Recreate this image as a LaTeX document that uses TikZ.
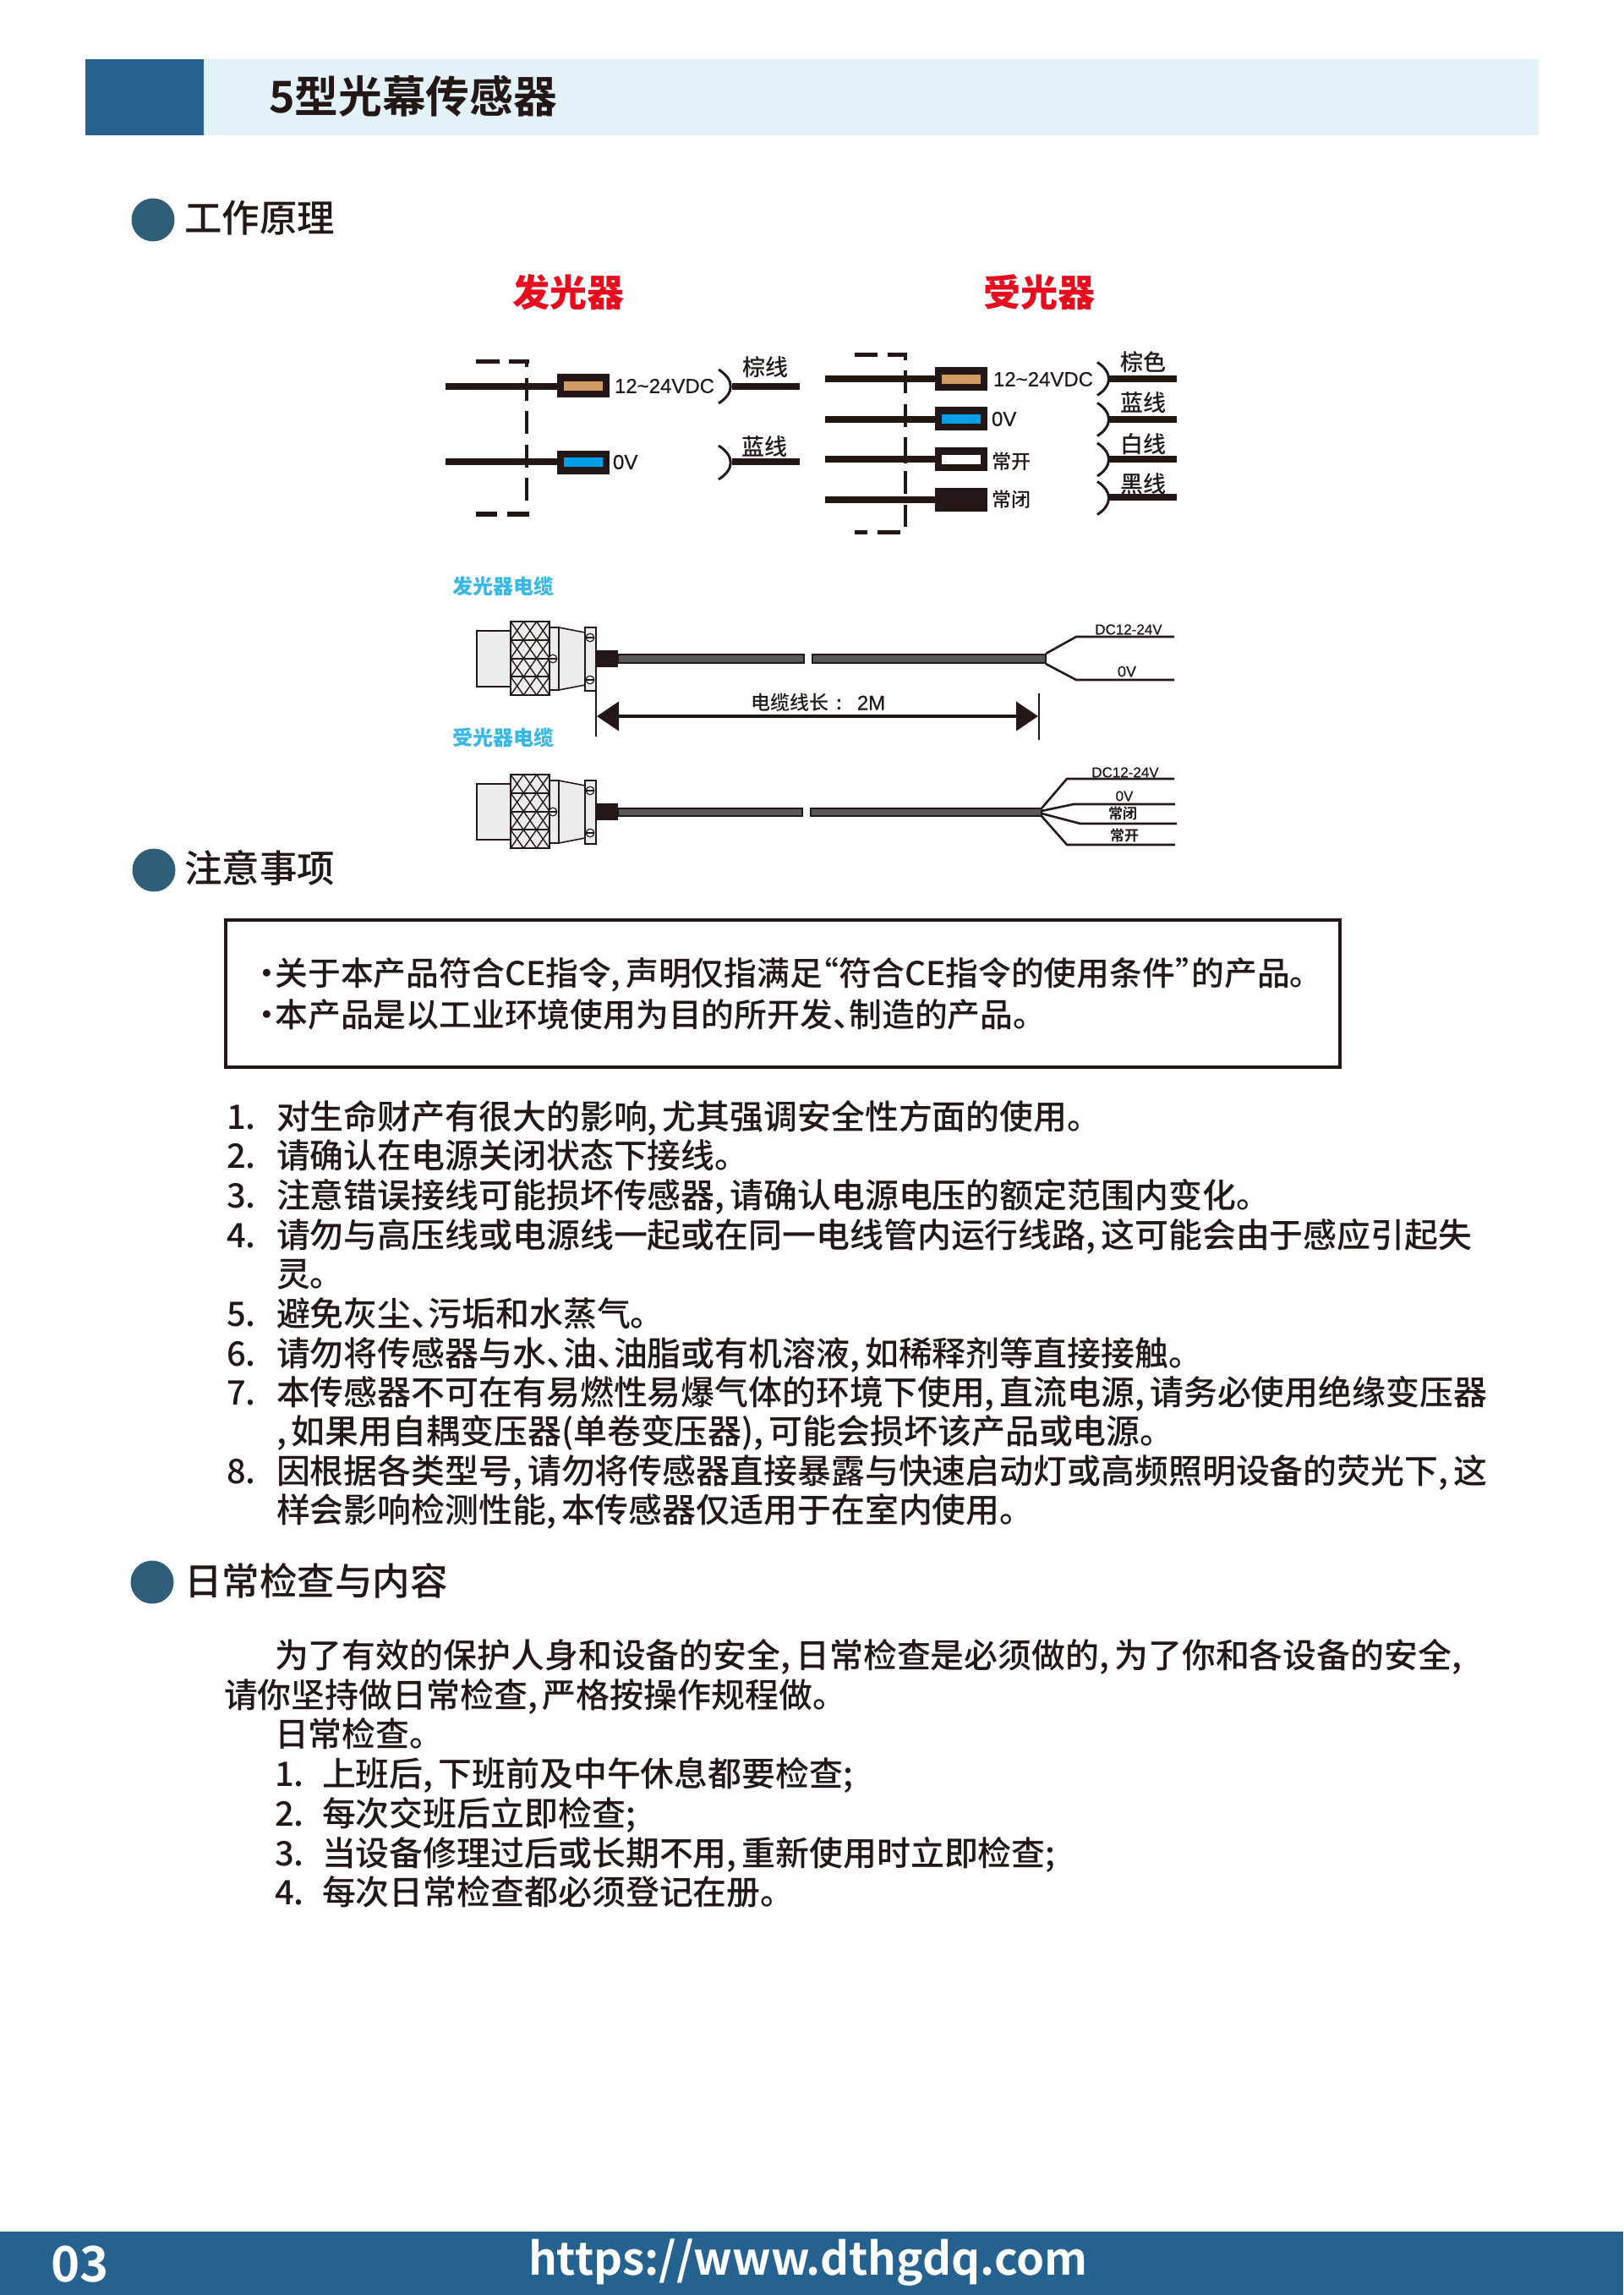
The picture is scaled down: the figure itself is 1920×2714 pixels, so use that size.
\documentclass[tikz,border=0pt]{standalone}
\usepackage{fontspec}
\usetikzlibrary{arrows.meta}
\setmainfont{Noto Sans CJK SC}[UprightFont=* Medium,BoldFont=* Bold,RawFeature={+halt}]
\newfontfamily\heavyfont{Noto Sans CJK SC Black}
\newfontfamily\latinfont{Liberation Sans}[FakeBold=0.5]
\newcommand{\ck}{,\hspace{.15em}}
\definecolor{inkdark}{HTML}{231815}
\definecolor{barblue}{HTML}{25628F}
\definecolor{barlight}{HTML}{E3F1F9}
\definecolor{dotblue}{HTML}{305E78}
\definecolor{signred}{HTML}{E60D1E}
\definecolor{signcyan}{HTML}{39B8E6}
\definecolor{coretan}{HTML}{D09A60}
\definecolor{coreblue}{HTML}{00A0E9}
\definecolor{cablegrey}{HTML}{595757}
\definecolor{bodygrey}{HTML}{ECECEC}

\begin{document}
\begin{tikzpicture}[x=1pt,y=-1pt]
	\tikzstyle{every node} = [inner sep=0,outer sep=0,text=inkdark];
	\tikzstyle{headline} = [anchor=west,font=\fontsize{44.5}{50}\selectfont,text height=38,text depth=6];
	\tikzstyle{bodyline} = [anchor=west,font=\fontsize{39.9}{46}\selectfont,text height=34,text depth=5];
	\tikzstyle{noteline} = [anchor=west,font=\fontsize{38.8}{46}\selectfont,text height=33,text depth=5];
	\tikzstyle{dot} = [circle,fill=dotblue,minimum size=51];
	\tikzstyle{signlabel} = [font=\heavyfont\fontsize{44}{50}\selectfont,text=signred,text height=38,text depth=6];
	\tikzstyle{cablelabel} = [anchor=west,font=\heavyfont\fontsize{24}{28}\selectfont,text=signcyan,text height=21,text depth=3];
	\tikzstyle{wirelabel} = [font=\fontsize{27}{30}\selectfont,text height=23,text depth=3];
	\tikzstyle{pinlabel} = [anchor=west,font=\fontsize{23}{28}\selectfont,text height=20,text depth=3];
	\tikzstyle{voltlabel} = [anchor=west,font=\latinfont\fontsize{24}{28}\selectfont,text height=17.5,text depth=0];
	\tikzstyle{tinylabel} = [font=\latinfont\fontsize{17}{20}\selectfont,text height=12.5,text depth=0];
	\tikzstyle{tinycjk} = [font=\bfseries\fontsize{17}{20}\selectfont,text height=15,text depth=2];
	\tikzstyle{termbox} = [rectangle,fill=inkdark,minimum width=62,minimum height=28];
	\tikzstyle{termcore} = [rectangle,minimum width=46,minimum height=11];
	\tikzstyle{wire} = [draw=inkdark,line width=8];
	\tikzstyle{hookline} = [draw=inkdark,line width=3];
	\tikzstyle{framedash} = [draw=inkdark,line width=4];
	\tikzstyle{thinwire} = [draw=inkdark,line width=2.6];
	\tikzstyle{partline} = [draw=inkdark,line width=1.6,fill=bodygrey];

	\useasboundingbox (0,0) rectangle (1920,2714);

	\fill[barlight] (241,70) rectangle (1820,160);
	\fill[barblue] (101,70) rectangle (241,160);
	\fill[barblue] (0,2639) rectangle (1920,2714);
	\node[anchor=west,font=\bfseries\fontsize{51.8}{56}\selectfont,text height=43,text depth=7] (title) at (318,115) {5型光幕传感器};

	\node[dot] (dot1) at (181,260) {};
	\node[headline] (head1) at (218,258) {工作原理};
	\node[dot] (dot2) at (182,1029) {};
	\node[headline] (head2) at (218,1027) {注意事项};
	\node[dot] (dot3) at (180,1871) {};
	\node[headline] (head3) at (218,1870) {日常检查与内容};

	\node[signlabel] (sign1) at (672,346) {发光器};
	\node[signlabel] (sign2) at (1229,346) {受光器};

	% emitter side
	\foreach \xa/\xb in {563/591,602/626} \draw[draw=inkdark,line width=5] (\xa,427.5) -- (\xb,427.5);
	\foreach \xa/\xb in {563/588,600/626} \draw[draw=inkdark,line width=6] (\xa,608) -- (\xb,608);
	\foreach \ya/\yb in {425/434,447/474,486/513,526/553,565/592} \draw[framedash] (623,\ya) -- (623,\yb);

	\coordinate (ein1) at (527,456.5);
	\coordinate (ein2) at (527,546);
	\node[termbox] (ebox1) at (689.5,456) {};
	\node[termbox] (ebox2) at (689.5,546.5) {};
	\node[termcore,fill=coretan] (ecore1) at (ebox1) {};
	\node[termcore,fill=coreblue] (ecore2) at (ebox2) {};
	\draw[wire] (ein1) -- (ebox1.west |- ein1);
	\draw[wire] (ein2) -- (ebox2.west |- ein2);
	\node[voltlabel] (evolt1) at (727,456) {12\textasciitilde24VDC};
	\node[voltlabel] (evolt2) at (725,546) {0V};

	\coordinate (ehook1a) at (850,437);
	\coordinate (ehook1b) at (850,477);
	\coordinate (ehook2a) at (850,527);
	\coordinate (ehook2b) at (850,567);
	\coordinate (eout1a) at (866,457);
	\coordinate (eout2a) at (866,546);
	\coordinate (eout1b) at (946,457);
	\coordinate (eout2b) at (946,546);
	\draw[hookline] (ehook1a) .. controls (869,449) and (869,465) .. (ehook1b);
	\draw[hookline] (ehook2a) .. controls (869,539) and (869,555) .. (ehook2b);
	\draw[wire] (eout1a) -- (eout1b);
	\draw[wire] (eout2a) -- (eout2b);
	\node[wirelabel] (ename1) at (905,434) {棕线};
	\node[wirelabel] (ename2) at (904,528) {蓝线};

	% receiver side
	\foreach \xa/\xb in {1011/1038,1050/1073} \draw[draw=inkdark,line width=5] (\xa,419.5) -- (\xb,419.5);
	\foreach \xa/\xb in {1011/1026,1038/1065} \draw[draw=inkdark,line width=5] (\xa,629.5) -- (\xb,629.5);
	\foreach \ya/\yb in {417/426,438/465,478/505,517/548,557/584,597/623} \draw[framedash] (1071,\ya) -- (1071,\yb);

	\coordinate (rin1) at (976,448);
	\coordinate (rin2) at (976,496);
	\coordinate (rin3) at (976,543);
	\coordinate (rin4) at (976,591);
	\node[termbox] (rbox1) at (1137,448) {};
	\node[termbox] (rbox2) at (1137,495) {};
	\node[termbox] (rbox3) at (1137,543) {};
	\node[termbox] (rbox4) at (1137,591) {};
	\node[termcore,fill=coretan] (rcore1) at (rbox1) {};
	\node[termcore,fill=coreblue] (rcore2) at (rbox2) {};
	\node[termcore,fill=white] (rcore3) at (rbox3) {};
	\foreach \n in {1,2,3,4} \draw[wire] (rin\n) -- (rbox\n.west |- rin\n);
	\node[voltlabel] (rvolt1) at (1175,448) {12\textasciitilde24VDC};
	\node[voltlabel] (rvolt2) at (1173,495) {0V};
	\node[pinlabel] (rpin3) at (1173,546) {常开};
	\node[pinlabel] (rpin4) at (1173,591) {常闭};

	\foreach \n/\ym/\yw in {1/448/448,2/496/496,3/543.5/543,4/589/588} {
		\coordinate (rhook\n a) at (1298,\ym-19.5);
		\coordinate (rhook\n b) at (1298,\ym+19.5);
		\coordinate (rout\n a) at (1312,\yw);
		\coordinate (rout\n b) at (1392,\yw);
		\draw[hookline] (rhook\n a) .. controls (1316,\ym-8) and (1316,\ym+8) .. (rhook\n b);
		\draw[wire] (rout\n a) -- (rout\n b);
	}
	\node[wirelabel] (rname1) at (1352,428) {棕色};
	\node[wirelabel] (rname2) at (1352,476) {蓝线};
	\node[wirelabel] (rname3) at (1352,525) {白线};
	\node[wirelabel] (rname4) at (1352,572) {黑线};

	% connectors
	\node[cablelabel] (cab1) at (535,693) {发光器电缆};
	\node[cablelabel] (cab2) at (535,872) {受光器电缆};
	\foreach \oy in {0,181} {
		\begin{scope}[shift={(0,\oy)}]
			\filldraw[partline,line width=2.4] (604,746) -- (564,746) -- (564,812) -- (604,812);
			\filldraw[partline] (650,742) rectangle (661,816);
			\filldraw[partline] (661,742) -- (692,748) -- (692,810) -- (661,816) -- cycle;
			\filldraw[partline,line width=2] (604,735) rectangle (650,822);
			\foreach \cx in {0,1,2} \foreach \cy in {0,1,2,3} {
				\draw[draw=inkdark,line width=1.4] (604+\cx*15.33,735+\cy*21.75) -- ++(15.33,21.75);
				\draw[draw=inkdark,line width=1.4] (619.33+\cx*15.33,735+\cy*21.75) -- ++(-15.33,21.75);
			}
			\foreach \cy in {757,779,800} \draw[draw=inkdark,line width=1.8] (604,\cy) -- (650,\cy);
			\filldraw[partline] (692,742) rectangle (705,817);
			\foreach \sx/\sy in {698/754,698/804,654/779} {
				\filldraw[partline,fill=white,line width=1.2] (\sx,\sy) circle (4.8);
				\draw[draw=inkdark,line width=1.2] (\sx-4.8,\sy) -- (\sx+4.8,\sy);
			}
			\fill[inkdark] (705,769) rectangle (731,789);
		\end{scope}
	}
	\tikzstyle{cablebar} = [draw=inkdark,fill=cablegrey,line width=2.2];
	\fill[cablebar] (731,774) rectangle (951,784);
	\fill[cablebar] (961,774) rectangle (1237,784);
	\fill[cablebar] (731,956) rectangle (949,965);
	\fill[cablebar] (959,956) rectangle (1232,965);

	% emitter leads
	\coordinate (lead1) at (1237,773);
	\coordinate (lead2) at (1237,785);
	\draw[thinwire] (lead1) -- (1273,753) -- (1389,753);
	\draw[thinwire] (lead2) -- (1273,804) -- (1389,804);
	\node[tinylabel] (lname1) at (1335,744) {DC12-24V};
	\node[tinylabel,font=\latinfont\fontsize{18}{20}\selectfont] (lname2) at (1333,794) {0V};

	% receiver leads
	\coordinate (lead3) at (1232,956);
	\coordinate (lead4) at (1232,959);
	\coordinate (lead5) at (1232,962);
	\coordinate (lead6) at (1232,965);
	\draw[thinwire] (lead3) -- (1262,921) -- (1389,921);
	\draw[thinwire] (lead4) -- (1270,951) -- (1390,951);
	\draw[thinwire] (lead5) -- (1278,974) -- (1392,974);
	\draw[thinwire] (lead6) -- (1262,999) -- (1390,999);
	\node[tinylabel] (lname3) at (1331,913) {DC12-24V};
	\node[tinylabel] (lname4) at (1330,941) {0V};
	\node[tinycjk] (lname5) at (1328,962) {常闭};
	\node[tinycjk] (lname6) at (1330,988) {常开};

	% cable length
	\coordinate (dimtopl) at (705,817);
	\coordinate (dimbotl) at (705,871);
	\coordinate (dimtopr) at (1229,820);
	\coordinate (dimbotr) at (1229,875);
	\coordinate (diml) at (706,847);
	\coordinate (dimr) at (1228,847);
	\draw[draw=inkdark,line width=2.2] (dimtopl) -- (dimbotl);
	\draw[draw=inkdark,line width=2.2] (dimtopr) -- (dimbotr);
	\draw[draw=inkdark,line width=4,{Triangle[length=26pt,width=34pt]}-{Triangle[length=26pt,width=34pt]}] (diml) -- (dimr);
	\node[anchor=west,font=\fontsize{23}{28}\selectfont,text height=20,text depth=3] (dimname) at (888,831) {电缆线长\hspace{10pt}:\hspace{17pt}{\latinfont\fontsize{24}{28}\selectfont 2M}};

	% notice box
	\node[draw=inkdark,line width=3.2,minimum width=1318,minimum height=174,anchor=north west] (notice) at (267,1088) {};
	\node[noteline] (note1) at (306,1151) {·关于本产品符合CE指令\ck 声明仅指满足“符合CE指令的使用条件”的产品。};
	\node[noteline] (note2) at (306,1200) {·本产品是以工业环境使用为目的所开发、制造的产品。};

	\node[bodyline] (num1) at (268,1321) {1.};
	\node[bodyline] (line1) at (327,1321) {对生命财产有很大的影响\ck 尤其强调安全性方面的使用。};
	\node[bodyline] (num2) at (268,1367) {2.};
	\node[bodyline] (line2) at (327,1367) {请确认在电源关闭状态下接线。};
	\node[bodyline] (num3) at (268,1414) {3.};
	\node[bodyline] (line3) at (327,1414) {注意错误接线可能损坏传感器\ck 请确认电源电压的额定范围内变化。};
	\node[bodyline] (num4) at (268,1461) {4.};
	\node[bodyline] (line4) at (327,1461) {请勿与高压线或电源线一起或在同一电线管内运行线路\ck 这可能会由于感应引起失};
	\node[bodyline] (line4b) at (327,1507) {灵。};
	\node[bodyline] (num5) at (268,1554) {5.};
	\node[bodyline] (line5) at (327,1554) {避免灰尘、污垢和水蒸气。};
	\node[bodyline] (num6) at (268,1601) {6.};
	\node[bodyline] (line6) at (327,1601) {请勿将传感器与水、油、油脂或有机溶液\ck 如稀释剂等直接接触。};
	\node[bodyline] (num7) at (268,1647) {7.};
	\node[bodyline] (line7) at (327,1647) {本传感器不可在有易燃性易爆气体的环境下使用\ck 直流电源\ck 请务必使用绝缘变压器};
	\node[bodyline] (line7b) at (327,1693) {\ck 如果用自耦变压器(单卷变压器)\ck 可能会损坏该产品或电源。};
	\node[bodyline] (num8) at (268,1740) {8.};
	\node[bodyline] (line8) at (327,1740) {因根据各类型号\ck 请勿将传感器直接暴露与快速启动灯或高频照明设备的荧光下\ck 这};
	\node[bodyline] (line8b) at (327,1786) {样会影响检测性能\ck 本传感器仅适用于在室内使用。};

	\node[bodyline] (para1) at (325,1958) {为了有效的保护人身和设备的安全\ck 日常检查是必须做的\ck 为了你和各设备的安全,};
	\node[bodyline] (para2) at (265,2005) {请你坚持做日常检查\ck 严格按操作规程做。};
	\node[bodyline] (para3) at (325,2051) {日常检查。};
	\node[bodyline] (chk1n) at (325,2098) {1.};
	\node[bodyline] (chk1) at (381,2098) {上班后\ck 下班前及中午休息都要检查;};
	\node[bodyline] (chk2n) at (325,2145) {2.};
	\node[bodyline] (chk2) at (381,2145) {每次交班后立即检查;};
	\node[bodyline] (chk3n) at (325,2192) {3.};
	\node[bodyline] (chk3) at (381,2192) {当设备修理过后或长期不用\ck 重新使用时立即检查;};
	\node[bodyline] (chk4n) at (325,2238) {4.};
	\node[bodyline] (chk4) at (381,2238) {每次日常检查都必须登记在册。};

	\node[anchor=west,font=\bfseries\fontsize{58}{66}\selectfont,text=white,text height=42,text depth=0] (page) at (60,2677) {03};
	\node[anchor=west,font=\bfseries\fontsize{53}{62}\selectfont,text=white,text height=40,text depth=0] (site) at (625,2670) {https://www.dthgdq.com};
\end{tikzpicture}
\end{document}
